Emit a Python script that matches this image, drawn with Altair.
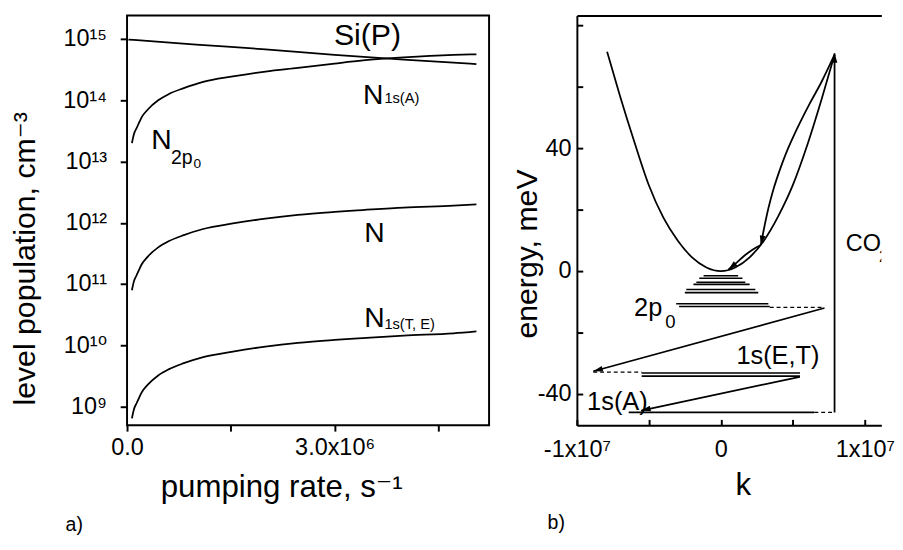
import math
import altair as alt
import pandas as pd

FONT = "Liberation Sans, Arial, DejaVu Sans, sans-serif"

# ---------------- panel a) : level populations ----------------
rate_main = [0.07e6, 0.10e6, 0.14e6, 0.18e6, 0.21e6, 0.30e6, 0.45e6, 0.60e6, 0.82e6,
             1.10e6, 1.53e6, 2.00e6, 2.47e6, 3.00e6, 3.41e6, 4.00e6, 4.72e6, 5.05e6]
pop_1sA = [2.0e13, 2.82e13, 3.55e13, 4.47e13, 5.25e13, 7.08e13, 1.0e14, 1.26e14, 1.58e14,
           2.0e14, 2.45e14, 2.95e14, 3.39e14, 3.98e14, 4.47e14, 5.01e14, 5.50e14, 5.62e14]
pop_N = [7.94e10, 1.12e11, 1.41e11, 1.78e11, 2.09e11, 2.82e11, 3.98e11, 5.01e11, 6.31e11,
         7.94e11, 9.77e11, 1.17e12, 1.35e12, 1.51e12, 1.62e12, 1.78e12, 1.91e12, 2.0e12]
pop_1sTE = [6.46e8, 9.12e8, 1.15e9, 1.45e9, 1.70e9, 2.29e9, 3.24e9, 4.07e9, 5.13e9,
            6.46e9, 7.94e9, 9.55e9, 1.10e10, 1.23e10, 1.32e10, 1.45e10, 1.58e10, 1.70e10]
rate_si = [0.02e6, 1.0e6, 2.0e6, 3.0e6, 4.0e6, 5.05e6]
pop_si = [9.8e14, 8.1e14, 6.8e14, 5.5e14, 4.6e14, 3.9e14]

ya_ticks = [1e9, 1e10, 1e11, 1e12, 1e13, 1e14, 1e15]
ya_labels = ["10⁹", "10¹⁰", "10¹¹", "10¹²", "10¹³", "10¹⁴", "10¹⁵"]
xa_ticks = [0, 1.5e6, 3.0e6, 4.5e6]
xa_labels = ["0.0", "", "3.0x10⁶", ""]

# annotation texts of panel a)
lab_a_text = ["Si(P)", "N", "1s(A)", "N", "2p", "0", "N", "N", "1s(T, E)"]
lab_a_x = [2.99e6, 3.41e6, 3.72e6, 0.35e6, 0.635e6, 0.96e6, 3.43e6, 3.43e6, 3.72e6]
lab_a_y = [1.12e15, 1.21e14, 1.07e14, 2.21e13, 1.15e13, 9.1e12, 6.8e11, 2.8e10, 2.24e10]
lab_a_fs = [31, 29, 15, 29, 20, 14, 29, 29, 15]

# ---------------- panel b) : energy diagram ----------------
par_k = [-0.79e7, -0.7e7, -0.6e7, -0.5e7, -0.4e7, -0.3e7, -0.2e7, -0.1e7, 0.0,
         0.1e7, 0.2e7, 0.3e7, 0.4e7, 0.5e7, 0.6e7, 0.7e7, 0.79e7]
par_E = [71.5, 57.0, 42.0, 28.0, 17.5, 10.0, 4.5, 1.2, 0.0,
         1.2, 4.5, 10.0, 18.0, 28.0, 41.0, 56.0, 70.5]

lev_E = [-1.5, -2.3, -3.6, -4.3, -6.0, -7.0, -10.6, -11.5, -33.2, -34.2, -46.0]
lev_k1 = [-0.12e7, -0.15e7, -0.17e7, -0.19e7, -0.24e7, -0.25e7, -0.31e7, -0.29e7, -0.55e7, -0.55e7, -0.64e7]
lev_k2 = [0.12e7, 0.15e7, 0.17e7, 0.20e7, 0.24e7, 0.26e7, 0.33e7, 0.34e7, 0.55e7, 0.55e7, 0.65e7]

dash_E = [-11.8, -32.9, -46.0]
dash_k1 = [0.34e7, -0.886e7, 0.65e7]
dash_k2 = [0.72e7, -0.55e7, 0.79e7]

arrow_co2_k = [0.79e7, 0.79e7]
arrow_co2_E = [-46.0, 71.0]
arrow_r1_k = [0.79e7, 0.70e7, 0.62e7, 0.55e7, 0.51e7, 0.47e7, 0.43e7, 0.39e7, 0.36e7,
              0.33e7, 0.30e7, 0.278e7]
arrow_r1_E = [70.5, 61.7, 54.8, 48.4, 44.5, 40.3, 35.6, 30.3, 25.8, 20.4, 13.9, 8.5]
arrow_r2_k = [0.278e7, 0.22e7, 0.165e7, 0.11e7, 0.052e7]
arrow_r2_E = [8.5, 7.0, 5.1, 2.8, 0.5]
arrow_c1_k = [0.72e7, -0.886e7]
arrow_c1_E = [-12.0, -32.6]
arrow_c2_k = [0.549e7, -0.554e7]
arrow_c2_E = [-34.4, -45.4]

yb_ticks = [-40, -20, 0, 20, 40, 60, 80]
yb_labels = ["-40", "", "0", "", "40", "", ""]
xb_ticks = [-1e7, -0.5e7, 0, 0.5e7, 1e7]
xb_labels = ["-1x10⁷", "", "0", "", "1x10⁷"]

lab_b_text = ["CO", "2", "2p", "0", "1s(E,T)", "1s(A)"]
lab_b_x = [0.868e7, 1.098e7, -0.603e7, -0.386e7, 0.108e7, -0.929e7]
lab_b_y = [8.9, 4.5, -12.1, -16.5, -27.7, -42.6]
lab_b_fs = [24, 17, 26, 19, 26, 26]

# ---------------- geometry ----------------
W_A, W_B, H = 371, 312, 420
XA_DOM = [0, 5.233e6]
YA_DOM = [10 ** 8.697, 10 ** 15.385]
KMIN, KMAX = -1.0e7, 1.115e7
EMIN, EMAX = -50.2, 83.3
INWARD = alt.ExprRef(expr="-6")

# ---------------- panel a chart ----------------
rows = []
for name, xs, ys in [("1sA", rate_main, pop_1sA), ("N", rate_main, pop_N),
                     ("1sTE", rate_main, pop_1sTE), ("Si", rate_si, pop_si)]:
    for i, (x, y) in enumerate(zip(xs, ys)):
        rows.append({"series": name, "rate": x, "pop": y, "order": i})
df_a = pd.DataFrame(rows)
df_lab_a = pd.DataFrame({"text": lab_a_text, "x": lab_a_x, "y": lab_a_y, "fs": lab_a_fs})

xsc_a = alt.Scale(domain=XA_DOM, nice=False, zero=False)
ysc_a = alt.Scale(type="log", domain=YA_DOM, nice=False)

ya_expr = "[" + ",".join("'%s'" % s for s in ya_labels) + "][round(log(datum.value)/LN10) - 9]"
xa_expr = "[" + ",".join("'%s'" % s for s in xa_labels) + "][round(datum.value/1.5e6)]"

lines_a = alt.Chart(df_a).mark_line(color="black", strokeWidth=1.8, clip=True,
                                    interpolate="monotone").encode(
    x=alt.X("rate:Q", scale=xsc_a, axis=alt.Axis(
        orient="bottom", values=xa_ticks, labelExpr=xa_expr, tickSize=6, tickWidth=2,
        labelPadding=5, labelFontSize=24, title="pumping rate, s⁻¹", titleFontSize=32,
        titleX=158, titleY=63, titleBaseline="middle", labelFlush=False)),
    y=alt.Y("pop:Q", scale=ysc_a, axis=alt.Axis(
        orient="left", values=ya_ticks, labelExpr=ya_expr, tickSize=7, tickWidth=2,
        labelPadding=14, labelFontSize=24, title="level population, cm⁻³", titleFontSize=31,
        titleX=-104, titleY=249, titleBaseline="middle")),
    detail="series:N",
    order="order:Q",
)
text_a = alt.Chart(df_lab_a).mark_text(align="left", baseline="middle", font=FONT, color="black").encode(
    x=alt.X("x:Q", scale=xsc_a, axis=None),
    y=alt.Y("y:Q", scale=ysc_a, axis=None),
    text="text:N",
    size=alt.Size("fs:Q", scale=None),
)
panel_a = alt.layer(lines_a, text_a).resolve_axis(
    x="independent", y="independent"
).properties(
    width=W_A, height=H,
    view=alt.ViewBackground(stroke="black", strokeWidth=2),
    title=alt.TitleParams("a)", orient="bottom", anchor="start", dx=57, offset=13,
                          fontSize=20, font=FONT, fontWeight="normal"),
)

# ---------------- panel b chart ----------------
xsc_b = alt.Scale(domain=[KMIN, KMAX], nice=False, zero=False)
ysc_b = alt.Scale(domain=[EMIN, EMAX], nice=False, zero=False)

df_par = pd.DataFrame({"k": par_k, "E": par_E, "order": list(range(len(par_k)))})
df_lev = pd.DataFrame({"E": lev_E, "k1": lev_k1, "k2": lev_k2})
df_dash = pd.DataFrame({"E": dash_E, "k1": dash_k1, "k2": dash_k2})

arrows = [("co2", arrow_co2_k, arrow_co2_E), ("r1", arrow_r1_k, arrow_r1_E),
          ("r2", arrow_r2_k, arrow_r2_E), ("c1", arrow_c1_k, arrow_c1_E),
          ("c2", arrow_c2_k, arrow_c2_E)]
px_k = W_B / (KMAX - KMIN)
px_E = H / (EMAX - EMIN)
arow, heads = [], []
for name, ks, es in arrows:
    for i, (k, e) in enumerate(zip(ks, es)):
        arow.append({"arrow": name, "k": k, "E": e, "order": i})
    dx = (ks[-1] - ks[-2]) * px_k
    dy = -(es[-1] - es[-2]) * px_E
    heads.append({"k": ks[-1], "E": es[-1], "ang": math.degrees(math.atan2(dy, dx)) % 360})
df_arr = pd.DataFrame(arow)
df_heads = pd.DataFrame(heads)
df_lab_b = pd.DataFrame({"text": lab_b_text, "x": lab_b_x, "y": lab_b_y, "fs": lab_b_fs})

xb_expr = "[" + ",".join("'%s'" % s for s in xb_labels) + "][round(datum.value/0.5e7) + 2]"
yb_expr = "[" + ",".join("'%s'" % s for s in yb_labels) + "][round(datum.value/20) + 2]"

parab = alt.Chart(df_par).mark_line(color="black", strokeWidth=1.8, interpolate="monotone").encode(
    x=alt.X("k:Q", scale=xsc_b, axis=alt.Axis(
        orient="bottom", values=xb_ticks, labelExpr=xb_expr, tickSize=INWARD, tickWidth=2,
        labelPadding=19, labelFontSize=24, title="k", titleFontSize=32, titleX=170, titleY=61,
        titleBaseline="middle", labelFlush=False,
        domain=True, domainColor="black", domainWidth=2)),
    y=alt.Y("E:Q", scale=ysc_b, axis=alt.Axis(
        orient="left", values=yb_ticks, labelExpr=yb_expr, tickSize=INWARD, tickWidth=2,
        labelPadding=12, labelFontSize=24, title="energy, meV", titleFontSize=31,
        titleX=-50, titleY=244, titleBaseline="middle",
        domain=True, domainColor="black", domainWidth=2)),
    order="order:Q",
)
levels = alt.Chart(df_lev).mark_rule(color="black", strokeWidth=1.6).encode(
    x=alt.X("k1:Q", scale=xsc_b, axis=alt.Axis(
        orient="top", labels=False, ticks=False, title=None,
        domain=True, domainColor="black", domainWidth=2)),
    x2="k2:Q",
    y=alt.Y("E:Q", scale=ysc_b, axis=None),
)
dashes = alt.Chart(df_dash).mark_rule(color="black", strokeWidth=1.3, strokeDash=[4, 3]).encode(
    x=alt.X("k1:Q", scale=xsc_b, axis=None),
    x2="k2:Q",
    y=alt.Y("E:Q", scale=ysc_b, axis=None),
)
arr_lines = alt.Chart(df_arr).mark_line(color="black", strokeWidth=1.8,
                                        interpolate="catmull-rom").encode(
    x=alt.X("k:Q", scale=xsc_b, axis=None),
    y=alt.Y("E:Q", scale=ysc_b, axis=None),
    detail="arrow:N",
    order="order:Q",
)
arr_heads = alt.Chart(df_heads).mark_point(
    shape="M0,0L-1,-0.3L-1,0.3Z", filled=True, color="black", size=380, opacity=1
).encode(
    x=alt.X("k:Q", scale=xsc_b, axis=None),
    y=alt.Y("E:Q", scale=ysc_b, axis=None),
    angle=alt.Angle("ang:Q", scale=None),
)
text_b = alt.Chart(df_lab_b).mark_text(align="left", baseline="middle", font=FONT, color="black",
                                       clip=True).encode(
    x=alt.X("x:Q", scale=xsc_b, axis=None),
    y=alt.Y("y:Q", scale=ysc_b, axis=None),
    text="text:N",
    size=alt.Size("fs:Q", scale=None),
)
panel_b = alt.layer(parab, levels, dashes, arr_lines, arr_heads, text_b).resolve_axis(
    x="independent", y="independent"
).properties(
    width=W_B, height=H,
    view=alt.ViewBackground(strokeOpacity=0),
    title=alt.TitleParams("b)", orient="bottom", anchor="start", dx=36, offset=13,
                          fontSize=20, font=FONT, fontWeight="normal"),
)

chart = alt.hconcat(panel_a, panel_b, spacing=23).properties(
    padding=0, background="white"
).configure_axis(
    labelFont=FONT, titleFont=FONT, labelColor="black", titleColor="black",
    tickColor="black", domain=False, grid=False, titleFontWeight="normal",
)

chart.save("out.html", embed_options={"renderer": "svg", "actions": False})
